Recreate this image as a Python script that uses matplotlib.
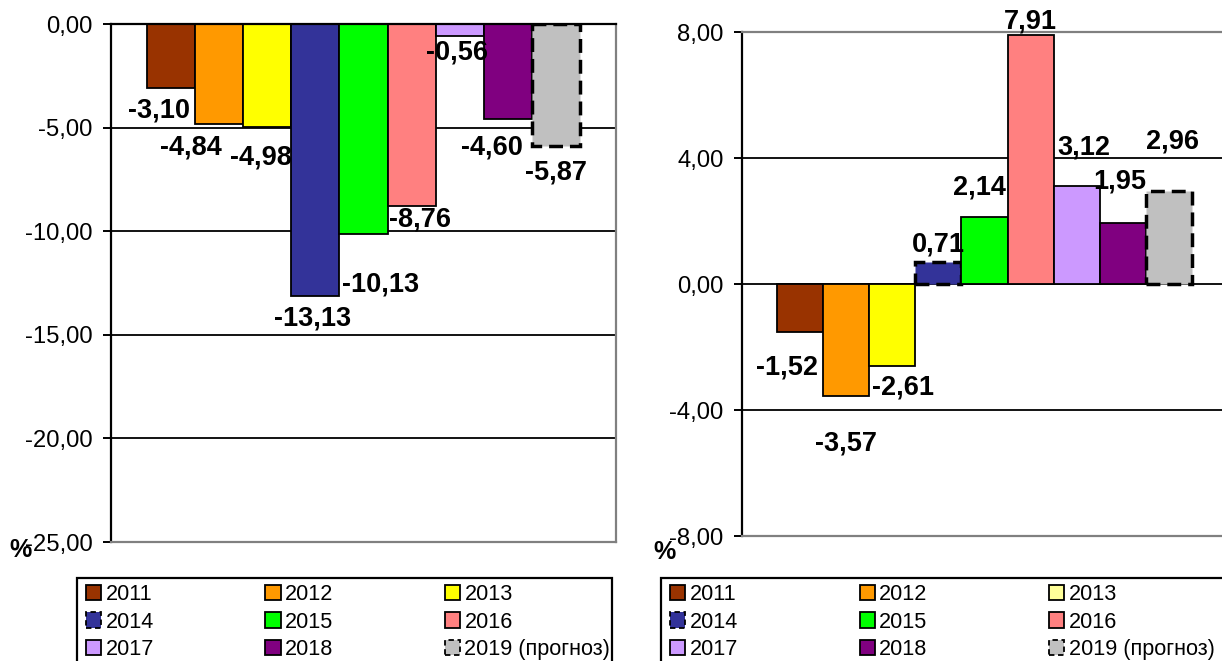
import matplotlib.pyplot as plt
from matplotlib.patches import Patch, Rectangle
from matplotlib.ticker import FuncFormatter

plt.rcParams['font.family'] = ['Liberation Sans', 'DejaVu Sans']

years = ['2011', '2012', '2013', '2014', '2015', '2016', '2017', '2018', '2019 (прогноз)']
left_vals = [-3.10, -4.84, -4.98, -13.13, -10.13, -8.76, -0.56, -4.60, -5.87]
right_vals = [-1.52, -3.57, -2.61, 0.71, 2.14, 7.91, 3.12, 1.95, 2.96]
left_ticks = [0, -5, -10, -15, -20, -25]
right_ticks = [8, 4, 0, -4, -8]

colors = ['#993300', '#FF9900', '#FFFF00', '#333399', '#00FF00',
          '#FF8080', '#CC99FF', '#800080', '#C0C0C0']

# label offsets in pixels (dx, dy), relative to the bar end
left_off = [(-12, -22), (-28, -23), (-6, -30), (-3, -22), (17, -51),
            (8, -14), (-3, -17), (-16, -28), (0, -27)]
right_off = [(-13, -36), (0, -47), (11, -21), (0, 17), (-5, 29),
             (0, 13), (7, 38), (-3, 41), (3, 49)]

W, H = 1222, 661
fig = plt.figure(figsize=(W / 100, H / 100), dpi=100)


def fmt(v, pos=None):
    return f"{v:.2f}".replace('.', ',')


def draw(ax, vals, ticks, offs, dashed, top_color):
    for i, v in enumerate(vals):
        ls = (0, (4, 2)) if i in dashed else '-'
        lw = 2.5 if i in dashed else 1.3
        ax.bar(i, v, width=1.0, color=colors[i], edgecolor='black',
               linewidth=lw, linestyle=ls, zorder=2)
        dx, dy = offs[i]
        ax.annotate(fmt(v), xy=(i, v), xytext=(dx, dy), textcoords='offset pixels',
                    ha='center', va='center', fontsize=19.5, fontweight='bold',
                    zorder=5, annotation_clip=False)
    ax.set_xlim(-1.248, 9.248)
    ax.set_ylim(min(ticks), max(ticks))
    ax.set_yticks(ticks)
    ax.yaxis.set_major_formatter(FuncFormatter(fmt))
    ax.set_xticks([])
    ax.tick_params(axis='y', direction='out', length=6.1, width=1.4, pad=7.2,
                   labelsize=17.2, color='black')
    for t in ticks[1:-1] if top_color == 'gray' else ticks[:-1]:
        ax.axhline(t, color='black', linewidth=1.3, zorder=1)
    ax.spines['left'].set_color('black')
    ax.spines['left'].set_linewidth(1.6)
    ax.spines['top'].set_color('black' if top_color == 'black' else '#808080')
    ax.spines['top'].set_linewidth(1.6)
    for s in ['bottom', 'right']:
        ax.spines[s].set_color('#808080')
        ax.spines[s].set_linewidth(1.6)


ax1 = fig.add_axes([111 / W, 1 - 542 / H, 505 / W, 518 / H])
draw(ax1, left_vals, left_ticks, left_off, dashed=[8], top_color='black')

ax2 = fig.add_axes([742 / W, 1 - 536 / H, 485 / W, 504 / H])
draw(ax2, right_vals, right_ticks, right_off, dashed=[3, 8], top_color='gray')

fig.text(21 / W, 1 - 550 / H, '%', fontsize=18, fontweight='bold', ha='center', va='center')
fig.text(664 / W, 1 - 552 / H, '%', fontsize=18, fontweight='bold', ha='center', va='center')


def legend_box(ax, x0, x1, hx, handles_colors, spacing):
    fig.patches.append(Rectangle((x0 / W, -0.02), (x1 - x0) / W, (1 - 578 / H) + 0.02,
                                 transform=fig.transFigure, fill=False,
                                 edgecolor='black', linewidth=1.6))
    handles = []
    for i, c in enumerate(handles_colors):
        ls = (0, (3, 2)) if i in (3, 8) else '-'
        handles.append(Patch(facecolor=c, edgecolor='black', linewidth=1.3, linestyle=ls))
    # matplotlib fills legend column by column, so reorder to read row by row
    order = [0, 3, 6, 1, 4, 7, 2, 5, 8]
    ax.legend([handles[k] for k in order], [years[k] for k in order], ncol=3,
              loc='upper left', bbox_to_anchor=(hx / W, 1 - 584 / H),
              bbox_transform=fig.transFigure, frameon=False, fontsize=15.6,
              handlelength=0.7, handleheight=0.7, handletextpad=0.2,
              columnspacing=spacing, labelspacing=0.3, borderpad=0,
              borderaxespad=0)


legend_box(ax1, 77, 612, 86, colors, 5.15)
right_leg_colors = list(colors)
right_leg_colors[2] = '#FFFF99'
legend_box(ax2, 661, 1240, 670, right_leg_colors, 5.62)

fig.savefig('out.png', dpi=100)
